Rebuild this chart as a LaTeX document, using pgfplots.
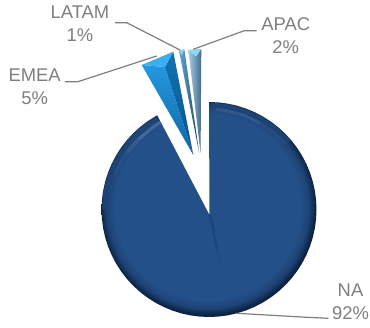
\documentclass[border=0pt]{standalone}
\usepackage{pgfplots}
\pgfplotsset{compat=1.18}
\usepackage{pgfplotstable}
\usepackage{fontspec}
\setmainfont{Liberation Sans}
\definecolor{lab}{HTML}{7F7F7F}
\definecolor{na}{HTML}{24508A}
\definecolor{nadark}{HTML}{0C2342}
\definecolor{nalight}{HTML}{7C9FCC}
\definecolor{emA}{HTML}{2398E0}
\definecolor{emB}{HTML}{0F66A2}
\definecolor{emC}{HTML}{1272B4}
\definecolor{emD}{HTML}{0B5488}
\definecolor{emE}{HTML}{3AAEF0}
\definecolor{laA}{HTML}{5FAAD2}
\definecolor{laB}{HTML}{1F3E5C}
\definecolor{laC}{HTML}{86D4F6}
\definecolor{apA}{HTML}{A9CFE4}
\definecolor{apB}{HTML}{3F6A8A}
\definecolor{apC}{HTML}{8ADAFA}
\pgfdeclareradialshading{rim}{\pgfpoint{-0.6bp}{1bp}}{color(0bp)=(na);color(21.5bp)=(na);color(23.5bp)=(na!72!nadark);color(25bp)=(nadark);color(50bp)=(nadark)}
% NA outline in polar form: angle, radius (92% slice = 331.2 degrees)
\pgfplotstableread{
a r
90 107.5
85 107.5
80 107.5
75 107.5
70 107.5
65 107.5
60 107.5
55 107.5
50 107.5
45 107.5
40 107.5
35 107.5
30 107.5
25 107.5
20 107.5
15 107.5
10 107.5
5 107.5
0 107.5
-5 107.5
-10 107.5
-15 107.5
-20 107.5
-25 107.5
-30 107.5
-35 107.5
-40 107.5
-45 107.5
-50 107.5
-55 107.5
-60 107.5
-65 107.5
-70 107.5
-75 107.5
-80 107.5
-85 107.5
-90 107.5
-95 107.5
-100 107.5
-105 107.5
-110 107.5
-115 107.5
-120 107.5
-125 107.5
-130 107.5
-135 107.5
-140 107.5
-145 107.5
-150 107.5
-155 107.5
-160 107.5
-165 107.5
-170 107.5
-175 107.5
-180 107.5
-185 107.5
-190 107.5
-195 107.5
-200 107.5
-205 107.5
-210 107.5
-215 107.5
-220 107.5
-225 107.5
-230 107.5
-235 107.5
-240 107.5
-241.2 107.5
-84.8 5.5
}\natable
\begin{document}
\begin{tikzpicture}[x=1pt,y=1pt]
\path[use as bounding box,fill=white] (0,0) rectangle (370pt,328pt);
\begin{axis}[at={(0,0)},anchor=south west,scale only axis,width=370pt,height=328pt,
  xmin=-209,xmax=161,ymin=-118.5,ymax=209.5,hide axis,clip=false]
% NA
\addplot[draw=none,shading=rim,data cs=polar] table[x=a,y=r]{\natable} -- cycle;
% softer rim on the upper side
\addplot[na,line width=3pt,opacity=.55,data cs=polar] coordinates {(89,105.5)(80,105.5)(70,105.5)(60,105.5)(50,105.5)(40,105.5)};
\addplot[na,line width=3pt,opacity=.55,data cs=polar] coordinates {(120,105.5)(130,105.5)(140,105.5)(150,105.5)(160,105.5)(170,105.5)(180,105.5)};
% bevel highlights on NA
\addplot[nalight,line width=4pt,opacity=.2,data cs=polar] coordinates {(119,100)(125,99.5)(135,99.5)(145,100)};
\addplot[nalight,line width=2pt,opacity=.25,data cs=polar] coordinates {(119,100)(125,99.5)(135,99.5)};
\addplot[nalight,line width=3pt,opacity=.1,data cs=polar] coordinates {(145,100)(150,100)(155,100.5)(160,100.5)};
\addplot[nalight,line width=3pt,opacity=.2,data cs=polar] coordinates {(86,100.5)(80,100.5)(70,100.5)(60,100.5)};
\addplot[nalight,line width=3pt,opacity=.08,data cs=polar] coordinates {(60,100.5)(50,101)(40,101.5)};
% seam below the notch
\addplot[nadark,line width=3.5pt,opacity=.1] coordinates {(1,-5)(6,-28)(11,-54)};
\addplot[nadark,line width=1.5pt,opacity=.2] coordinates {(1,-5)(5,-24)(8,-40)};
% EMEA
\addplot[draw=none,top color=emA,bottom color=emB] coordinates {(-67.3,144.5)(-44,142.5)(-15.7,54.5)} -- cycle;
\addplot[draw=none,top color=emC,bottom color=emD] coordinates {(-44,142.5)(-35.7,157.8)(-15.7,54.5)} -- cycle;
\addplot[draw=none,fill=emE] coordinates {(-67.3,144.5)(-35.7,157.8)(-44,142.5)} -- cycle;
% LATAM
\addplot[draw=none,left color=laA,right color=laB] coordinates {(-30,158.8)(-24.7,160.2)(-9.8,56.5)} -- cycle;
\addplot[draw=none,fill=laC] coordinates {(-30,158.8)(-24.7,160.2)(-27,154)} -- cycle;
% APAC
\addplot[draw=none,left color=apA,right color=apB] coordinates {(-20.7,159.5)(-7.7,160.2)(-8.4,56.5)} -- cycle;
\addplot[draw=none,fill=apC] coordinates {(-20.7,159.5)(-7.7,160.2)(-13,153)} -- cycle;
% leaders
\addplot[lab,line width=1.2pt] coordinates {(-144,127.8)(-131,127.8)(-52.3,153.5)};
\addplot[lab,line width=1.2pt] coordinates {(47.7,178.8)(35.3,178.8)(-15.7,160.2)};
\addplot[lab,line width=1.2pt] coordinates {(-94,186.8)(-82.3,186.8)(-29,159.5)};
\addplot[lab,line width=1.2pt] coordinates {(119.3,-108.8)(97.7,-107.8)(27.7,-103.8)};
% labels
\tikzset{lb/.style={text=lab,align=center,inner sep=0pt,font=\fontsize{18.4}{23}\selectfont}}
\node[lb] at (axis cs:-129,186) {LATAM\\1\%};
\node[lb] at (axis cs:76.7,174) {APAC\\2\%};
\node[lb] at (axis cs:-174.3,122.5) {EMEA\\5\%};
\node[lb] at (axis cs:141.5,-92) {NA\\92\%};
\end{axis}
\end{tikzpicture}
\end{document}
